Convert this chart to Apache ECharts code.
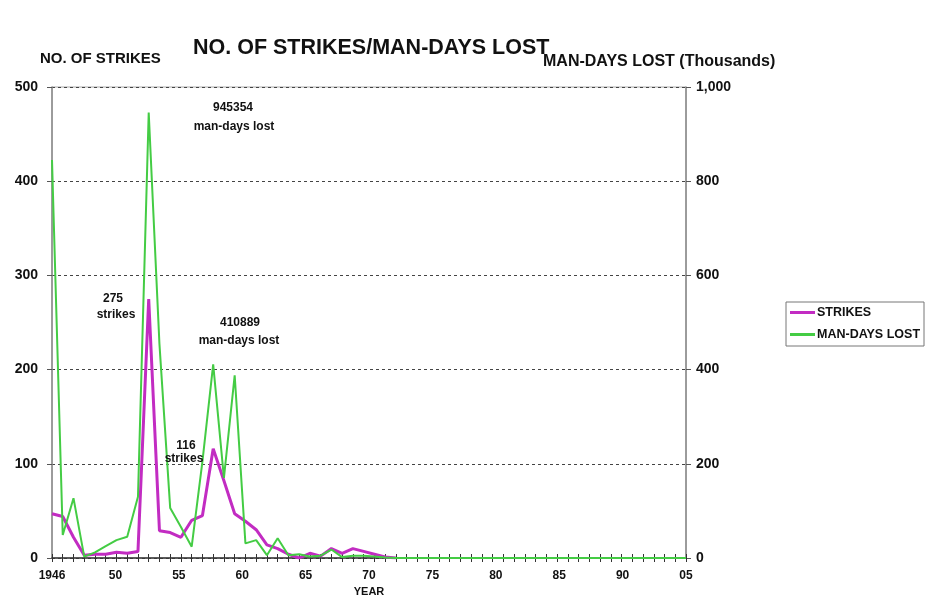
<!DOCTYPE html>
<html><head><meta charset="utf-8">
<script src="https://cdn.jsdelivr.net/npm/echarts@6/dist/echarts.min.js"></script>
<style>html,body{margin:0;padding:0;background:#fff}#c{width:926px;height:596px}</style>
</head><body><div id="c"></div>
<script>
const years = [1946,1947,1948,1949,1950,1951,1952,1953,1954,1955,1956,1957,1958,1959,1960,1961,1962,1963,1964,1965,1966,1967,1968,1969,1970,1971,1972,1973,1974,1975,1976,1977,1978,1979,1980,1981,1982,1983,1984,1985,1986,1987,1988,1989,1990,1991,1992,1993,1994,1995,1996,1997,1998,1999,2000,2001,2002,2003,2004,2005];
const strikes = [47,44,22,3,4,4,6,5,7,275,29,27,22,40,45,116,82,47,39,30,14,10,4,0,5,2,10,5,10,7,4,1,0,null,null,null,null,null,null,null,null,null,null,null,null,null,null,null,null,null,null,null,null,null,null,null,null,null,null,null];
const manDaysLost = [845,49,127,3,12,25,38,45,130,946,454,106,66,24,205,411,170,388,31,38,6,42,6,8,3,5,18,2,5,5,3,1,0,0,0,0,0,0,0,0,0,0,0,0,0,0,0,0,0,0,0,0,0,0,0,0,0,0,0,0];
const xTickLabels = ['1946','50','55','60','65','70','75','80','85','90','05'];
const seriesNames = ['STRIKES','MAN-DAYS LOST'];
const annotations = [
  {text:'945354', x:233, y:108}, {text:'man-days lost', x:234, y:127},
  {text:'275', x:113, y:299}, {text:'strikes', x:116, y:315},
  {text:'410889', x:240, y:323}, {text:'man-days lost', x:239, y:341},
  {text:'116', x:186, y:446}, {text:'strikes', x:184, y:459}
];
const FF = '"Liberation Sans", Arial, sans-serif';
const chart = echarts.init(document.getElementById('c'));
const txt = (s, size, extra) => Object.assign({type:'text', style:{text:s, font:'bold '+size+'px '+FF, fill:'#111'}}, extra||{});
chart.setOption({
  animation:false,
  backgroundColor:'#fff',
  title:{text:'NO. OF STRIKES/MAN-DAYS LOST', left:188, top:32, textStyle:{fontFamily:FF, fontWeight:'bold', fontSize:21.5, color:'#111'}},
  legend:{data:seriesNames.map(n=>({name:n, icon:'rect'})), orient:'vertical', left:786, top:302, itemWidth:25, itemHeight:3, itemGap:9,
    borderColor:'#777', borderWidth:1, padding:[4,4,5,4],
    textStyle:{fontFamily:FF, fontWeight:'bold', fontSize:12.5, color:'#111', padding:[0,0,0,-3]}},
  grid:{left:52, right:240, top:87, bottom:38, show:true, borderColor:'#aaa', borderWidth:1, outerBoundsMode:'none', containLabel:false},
  xAxis:[
    {type:'category', data:years, boundaryGap:false, position:'bottom',
      axisLine:{lineStyle:{color:'#333', width:1.5}}, axisTick:{show:true, interval:0, length:4, lineStyle:{color:'#333'}},
      axisLabel:{show:false}, splitLine:{show:false}},
    {type:'category', data:years, boundaryGap:false, position:'bottom',
      axisLine:{show:false}, axisTick:{show:true, inside:true, interval:0, length:4, lineStyle:{color:'#333'}},
      axisLabel:{show:false}, splitLine:{show:false}},
    {type:'category', data:xTickLabels, boundaryGap:false, position:'bottom',
      axisLine:{show:false}, axisTick:{show:false},
      axisLabel:{interval:0, margin:12, fontFamily:FF, fontWeight:'bold', fontSize:12, color:'#111'},
      name:'YEAR', nameLocation:'middle', nameGap:27, nameTextStyle:{fontFamily:FF, fontWeight:'bold', fontSize:11, color:'#111'}}
  ],
  yAxis:[
    {type:'value', min:0, max:500, interval:100, position:'left',
      axisLine:{show:true, lineStyle:{color:'#888', width:1.5}}, axisTick:{show:true, length:5, lineStyle:{color:'#555'}},
      axisLabel:{margin:14, fontFamily:FF, fontWeight:'bold', fontSize:14, color:'#111'},
      splitLine:{show:true, lineStyle:{color:'#444', type:[3,3], width:1}}},
    {type:'value', min:0, max:1000, interval:200, position:'right',
      axisLine:{show:true, lineStyle:{color:'#888', width:1.5}}, axisTick:{show:true, length:5, lineStyle:{color:'#555'}},
      axisLabel:{margin:10, fontFamily:FF, fontWeight:'bold', fontSize:14, color:'#111', formatter:v=>v.toLocaleString('en-US')},
      splitLine:{show:false}}
  ],
  series:[
    {name:seriesNames[0], type:'line', xAxisIndex:0, yAxisIndex:0, data:strikes, symbol:'none', connectNulls:false,
      lineStyle:{color:'#c22cc2', width:3}, itemStyle:{color:'#c22cc2'}, z:2},
    {name:seriesNames[1], type:'line', xAxisIndex:0, yAxisIndex:1, data:manDaysLost, symbol:'none',
      lineStyle:{color:'#44cc44', width:2}, itemStyle:{color:'#44cc44'}, z:3}
  ],
  graphic:[
    txt('NO. OF STRIKES', 15, {left:40, top:51}),
    txt('MAN-DAYS LOST (Thousands)', 16, {left:543, top:54})
  ].concat(annotations.map(a => ({type:'text', x:a.x, y:a.y, z:10,
      style:{text:a.text, font:'bold 12px '+FF, fill:'#111', textAlign:'center', textVerticalAlign:'middle'}})))
});
</script></body></html>
